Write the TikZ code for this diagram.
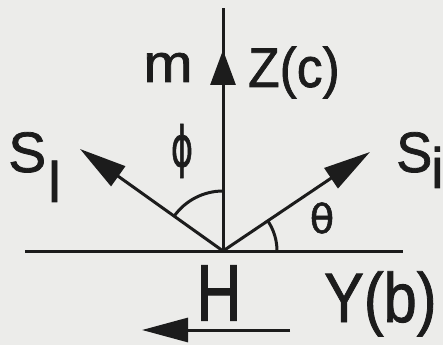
\documentclass[tikz,border=0pt]{standalone}
\usepackage{fontspec}
\setmainfont{Liberation Sans}[AutoFakeBold=1.3]
\newfontfamily\dvfont{DejaVu Sans}[AutoFakeBold=1.3]
\usetikzlibrary{arrows.meta}
\definecolor{paper}{RGB}{236,236,234}
\definecolor{ink}{RGB}{28,28,28}
\begin{document}
\begin{tikzpicture}[x=1pt,y=1pt,
  ln/.style={draw=ink,line width=3pt},
  arr/.style={ln,-{Triangle[length=47pt,width=24pt]}},
  lbl/.style={inner sep=0pt,text=ink,font=\fontsize{57}{60}\selectfont\bfseries}]
\fill[paper] (0,0) rectangle (443,345);
\useasboundingbox (0,0) rectangle (443,345);
% points
\coordinate (O) at (223,94);
\coordinate (Ztop) at (223,337);
\coordinate (Ztip) at (223,295);
\coordinate (Sl) at (80,196);
\coordinate (Si) at (370,193);
\coordinate (Yl) at (25,94);
\coordinate (Yr) at (403,94);
\coordinate (Hs) at (290,15);
\coordinate (He) at (142,15);
% lines
\draw[ln] (Yl) -- (Yr);
\draw[ln] (O) -- (Ztop);
\draw[ln,-{Triangle[length=35pt,width=25pt]}] (O) -- (Ztip);
\draw[arr] (O) -- (Sl);
\draw[arr] (O) -- (Si);
\draw[ln,-{Triangle[length=46pt,width=24pt]}] (Hs) -- (He);
% angle arcs
\draw[ln] ([shift={(90:60)}]O) arc[start angle=90,end angle=144.5,radius=60];
\draw[ln] ([shift={(0:54)}]O) arc[start angle=0,end angle=34,radius=54];
% labels
\node[lbl,anchor=base,font=\fontsize{54}{58}\selectfont\bfseries,xscale=1.1] (m) at (168,263) {m};
\node[lbl,anchor=base west,font=\fontsize{56}{60}\selectfont\bfseries,xscale=0.92] (Z) at (248,258) {Z(c)};
\node[lbl,anchor=base west] (SL) at (8,173) {S\kern2pt\raisebox{-30pt}{l}};
\node[lbl,anchor=base west,xscale=0.95] (SI) at (396,173) {S\kern-1pt\raisebox{-16pt}{i}};
\node[lbl,font=\dvfont\fontsize{56}{60}\selectfont\bfseries,xscale=0.6] (phi) at (182,194) {ϕ};
\node[lbl,font=\dvfont\fontsize{40}{44}\selectfont\bfseries] (th) at (322,127) {θ};
\node[lbl,font=\fontsize{80}{84}\selectfont\bfseries,xscale=0.78] (H) at (219,52) {H};
\node[lbl,anchor=base west,font=\fontsize{70}{74}\selectfont\bfseries,xscale=0.85] (Y) at (324,23) {Y(b)};
\end{tikzpicture}
\end{document}
